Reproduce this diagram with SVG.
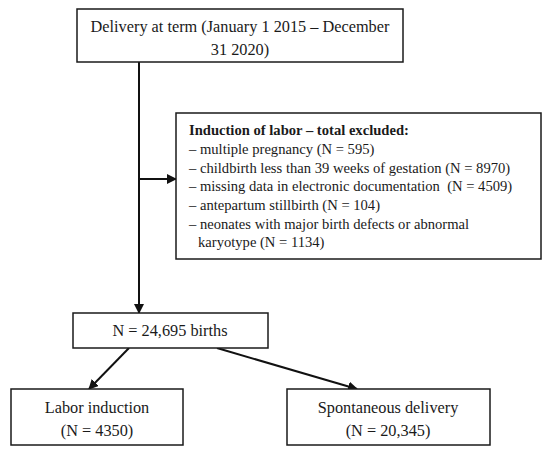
<svg xmlns="http://www.w3.org/2000/svg" width="550" height="456" viewBox="0 0 550 456">
<style>
.box{fill:#fff;stroke:#1a1a1a;stroke-width:1.5}
.t{font-family:"Liberation Serif","Times New Roman",serif;font-size:16.3px;fill:#1a1a1a}
.s{font-family:"Liberation Serif","Times New Roman",serif;font-size:14.6px;fill:#1a1a1a}
.c{text-anchor:middle}
.ln{stroke:#111;stroke-width:2;fill:none}
</style>
<defs>
<marker id="ah" markerWidth="10" markerHeight="10" refX="9" refY="5" orient="auto" markerUnits="userSpaceOnUse">
<path d="M0,0 L10,5 L0,10 Z" fill="#111"/>
</marker>
</defs>
<rect width="550" height="456" fill="#fff"/>
<g id="connectors">
<line class="ln" x1="139" y1="62" x2="139" y2="313" marker-end="url(#ah)"/>
<line class="ln" x1="139" y1="179" x2="176" y2="179" marker-end="url(#ah)"/>
<line class="ln" x1="129" y1="348" x2="89" y2="389" marker-end="url(#ah)"/>
<line class="ln" x1="217" y1="348" x2="357" y2="389" marker-end="url(#ah)"/>
</g>
<g id="node-delivery">
<rect class="box" x="77" y="9" width="326" height="53"/>
<text class="t c" x="240" y="32">Delivery at term (January 1 2015 – December</text>
<text class="t c" x="240" y="55">31 2020)</text>
</g>
<g id="node-excluded">
<rect class="box" x="176" y="113" width="365" height="146"/>
<text class="s" x="189" y="135" font-weight="bold">Induction of labor – total excluded:</text>
<text class="s" x="189" y="154">– multiple pregnancy (N = 595)</text>
<text class="s" x="189" y="173">– childbirth less than 39 weeks of gestation (N = 8970)</text>
<text class="s" x="189" y="191">– missing data in electronic documentation&#160; (N = 4509)</text>
<text class="s" x="189" y="210">– antepartum stillbirth (N = 104)</text>
<text class="s" x="189" y="229">– neonates with major birth defects or abnormal</text>
<text class="s" x="198" y="247">karyotype (N = 1134)</text>
</g>
<g id="node-births">
<rect class="box" x="73" y="313" width="195" height="35"/>
<text class="t c" x="170" y="336">N = 24,695 births</text>
</g>
<g id="node-induction">
<rect class="box" x="11" y="389" width="172" height="56"/>
<text class="t c" x="97" y="413">Labor induction</text>
<text class="t c" x="97" y="436">(N = 4350)</text>
</g>
<g id="node-spontaneous">
<rect class="box" x="287" y="389" width="203" height="56"/>
<text class="t c" x="388" y="413">Spontaneous delivery</text>
<text class="t c" x="388" y="436">(N = 20,345)</text>
</g>
</svg>
